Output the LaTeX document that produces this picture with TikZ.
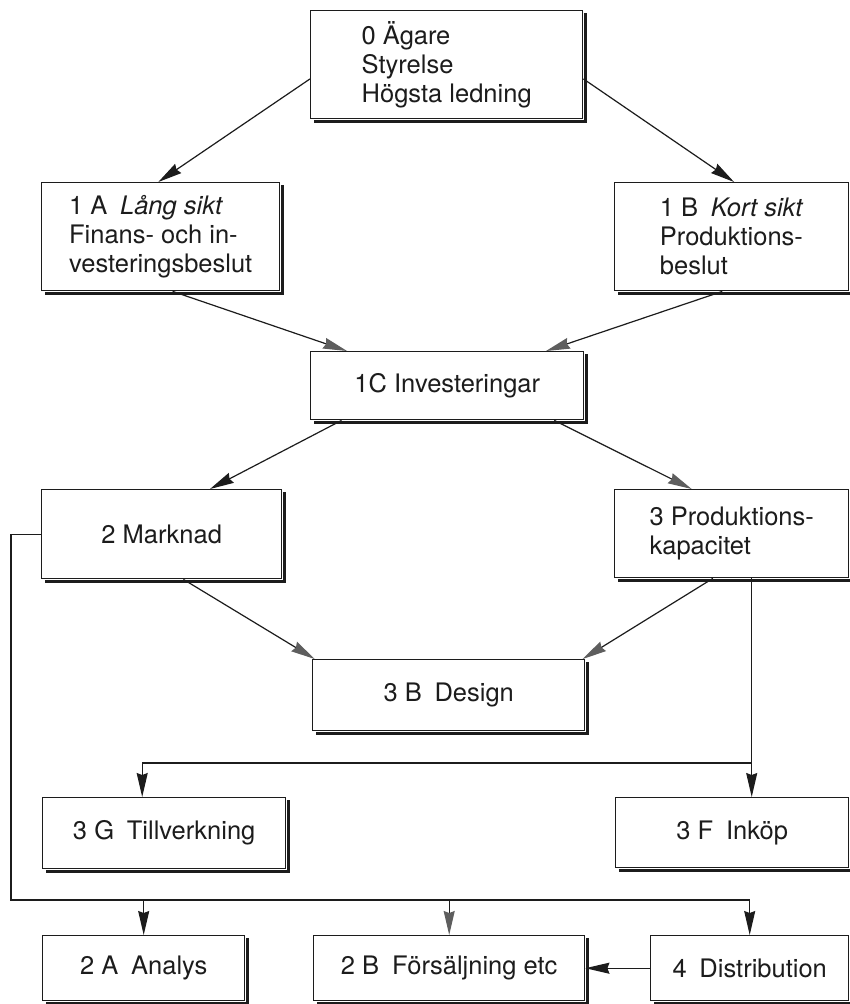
\documentclass[tikz,border=0pt]{standalone}
\usepackage{fontspec}
\setmainfont{TeX Gyre Heros}
\usetikzlibrary{arrows.meta,calc}
\definecolor{ink}{HTML}{1C1C1C}
\definecolor{tipgray}{HTML}{5E5E5E}
\begin{document}
\begin{tikzpicture}[x=1pt,y=-1pt,
  box/.style={draw=ink, line width=1.4pt, rectangle, inner sep=0pt, align=left,
    font=\fontsize{25.5}{29}\selectfont, text=ink, anchor=north west},
  conn/.style={draw=ink, line width=1.2pt},
  arr/.style={conn, -{Stealth[length=24pt,width=11pt,inset=2pt]}},
  garr/.style={conn, -{Stealth[length=24pt,width=11pt,inset=2pt,color=tipgray]}},
  shadowline/.style={draw=ink, line width=2.8pt, line join=miter}
]
\useasboundingbox[fill=white] (0,0) rectangle (850,1004);

% boxes
\node[box, minimum width=272pt, minimum height=108pt] (b0) at (310,10)
  {0 Ägare\\Styrelse\\Högsta ledning};
\node[box, minimum width=238pt, minimum height=108pt] (b1a) at (41,182)
  {1 A\enspace\textit{Lång sikt}\\Finans- och in-\\vesteringsbeslut};
\node[box, minimum width=234pt, minimum height=108pt] (b1b) at (614,182)
  {1 B\enspace\textit{Kort sikt}\\Produktions-\\beslut};
\node[box, minimum width=273pt, minimum height=68pt] (b1c) at (310,351)
  {1C Investeringar};
\node[box, minimum width=240pt, minimum height=89pt] (b2m) at (41,489)
  {2 Marknad};
\node[box, minimum width=234pt, minimum height=88pt] (b3p) at (614,489)
  {3 Produktions-\\kapacitet};
\node[box, minimum width=272pt, minimum height=71pt] (b3b) at (312,659)
  {3 B\enspace Design};
\node[box, minimum width=243pt, minimum height=71pt] (b3g) at (42,797)
  {3 G\enspace Tillverkning};
\node[box, minimum width=233pt, minimum height=70pt] (b3f) at (615,797)
  {3 F\enspace Inköp};
\node[box, minimum width=202pt, minimum height=65pt] (b2a) at (42,935)
  {2 A\enspace Analys};
\node[box, minimum width=271pt, minimum height=65pt] (b2b) at (313,935)
  {2 B\enspace Försäljning etc};
\node[box, minimum width=198pt, minimum height=65pt] (b4) at (650,935)
  {4\enspace Distribution};

% shadows
\foreach \n in {b0,b1a,b1b,b1c,b2m,b3p,b3b,b3g,b3f,b2a,b2b,b4}{
  \draw[shadowline] ([shift={(4pt,-2pt)}]\n.south west)
    -- ([shift={(2pt,-2pt)}]\n.south east)
    -- ([shift={(2pt,-3pt)}]\n.north east);
}

% connectors
\draw[arr] ($(b0.north west)!0.63!(b0.south west)$) -- ($(b1a.north west)!0.49!(b1a.north east)$);
\draw[arr] ($(b0.north east)!0.63!(b0.south east)$) -- ($(b1b.north west)!0.51!(b1b.north east)$);
\draw[garr] ($(b1a.south west)!0.55!(b1a.south east)$) -- ($(b1c.north west)!0.135!(b1c.north east)$);
\draw[garr] ($(b1b.south west)!0.46!(b1b.south east)$) -- ($(b1c.north west)!0.86!(b1c.north east)$);
\draw[arr] ($(b1c.south west)!0.115!(b1c.south east)$) -- ($(b2m.north west)!0.70!(b2m.north east)$);
\draw[garr] ($(b1c.south west)!0.89!(b1c.south east)$) -- ($(b3p.north west)!0.33!(b3p.north east)$);
\draw[garr] ($(b2m.south west)!0.59!(b2m.south east)$) -- ($(b3b.north west)!0.01!(b3b.north east)$);
\draw[garr] ($(b3p.south west)!0.42!(b3p.south east)$) -- ($(b3b.north west)!0.99!(b3b.north east)$);

% production capacity -> 3F and 3G
\coordinate (pv) at ($(b3p.south west)!0.585!(b3p.south east)$);
\coordinate (split) at (pv |- 0,763);
\draw[arr] (pv) -- (pv |- b3f.north);
\draw[arr] (split) -| ($(b3g.north west)!0.41!(b3g.north east)$);

% market -> bottom row
\coordinate (lc) at (11,900);
\draw[arr] (b2m.west) -| (lc) -| (b4.north);
\draw[arr] (b2a.north |- lc) -- (b2a.north);
\draw[garr] (b2b.north |- lc) -- (b2b.north);
\draw[arr] (b4.west) -- (b2b.east);
\end{tikzpicture}
\end{document}
